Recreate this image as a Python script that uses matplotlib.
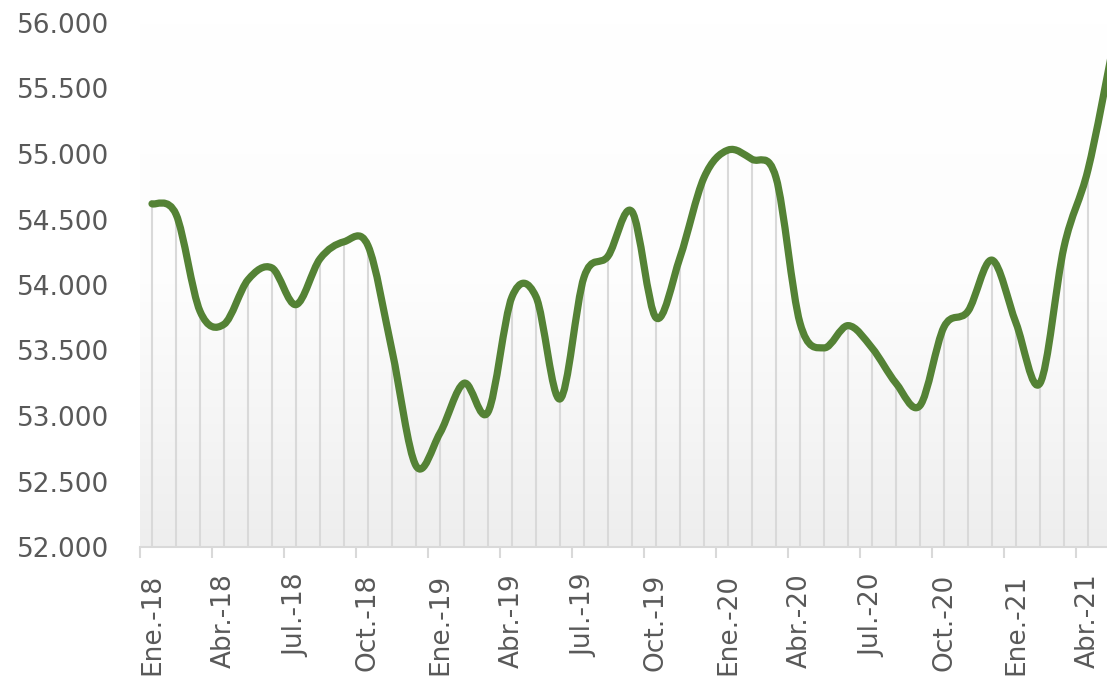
"""Monthly series Ene-18 to May-21, smoothed line with drop lines."""
import numpy as np
import matplotlib
matplotlib.use("Agg")
import matplotlib.pyplot as plt
from matplotlib.path import Path
from matplotlib.patches import PathPatch
from matplotlib.colors import LinearSegmentedColormap

months = ["Ene.", "Feb.", "Mar.", "Abr.", "May.", "Jun.",
          "Jul.", "Ago.", "Sep.", "Oct.", "Nov.", "Dic."]
years = ["18", "19", "20", "21"]
n_points = 41  # Ene.-18 .. May.-21
categories = [months[i % 12] + "-" + years[i // 12] for i in range(n_points)]

values = [
    54620, 54540, 53800, 53700, 54040, 54130, 53850, 54200, 54330, 54300,
    53500, 52620, 52870, 53250, 53030, 53910, 53910, 53130, 54060, 54220,
    54560, 53750, 54210, 54820, 55030, 54960, 54820, 53710, 53520, 53690,
    53520, 53250, 53080, 53680, 53800, 54190, 53710, 53250, 54290, 54880,
    55780,
]

y_ticks = [52000, 52500, 53000, 53500, 54000, 54500, 55000, 55500, 56000]

LINE = "#548235"
GRAY_TXT = "#595959"
DROP = "#d9d9d9"


def smooth_path(x, y):
    # Excel-like smoothed line: cubic Bezier per segment (Catmull-Rom)
    pts = np.column_stack([x, y]).astype(float)
    n = len(pts)
    verts = [pts[0]]
    codes = [Path.MOVETO]
    for i in range(n - 1):
        p0 = pts[i - 1] if i > 0 else pts[i]
        p1 = pts[i]
        p2 = pts[i + 1]
        p3 = pts[i + 2] if i + 2 < n else pts[i + 1]
        c1 = p1 + (p2 - p0) / 6.0
        c2 = p2 - (p3 - p1) / 6.0
        verts += [c1, c2, p2]
        codes += [Path.CURVE4] * 3
    return Path(verts, codes)


fig = plt.figure(figsize=(11.07, 6.9), dpi=100)
ax = fig.add_axes([140 / 1107, (690 - 547) / 690, 1 - 140 / 1107, (547 - 23) / 690])

x = np.arange(n_points)
xmax = (1107 - 152) / 24

# gradient plot-area background, white at top to light gray at bottom
cmap = LinearSegmentedColormap.from_list("bg", ["#ffffff", "#fdfdfd", "#eeeeee"])
grad = np.linspace(0, 1, 256).reshape(-1, 1)
ax.imshow(grad, aspect="auto", cmap=cmap, extent=[-0.5, 45, 52000, 56000],
          origin="upper", zorder=0, vmin=0, vmax=1)
ax.set_xlim(-0.5, xmax)
ax.set_ylim(52000, 56000)

ax.vlines(x, 52000, values, color=DROP, linewidth=1.5, zorder=1)

patch = PathPatch(smooth_path(x, values), facecolor="none", edgecolor=LINE,
                  linewidth=5.2, capstyle="round", joinstyle="round", zorder=3)
ax.add_patch(patch)

for s in ["top", "right", "left"]:
    ax.spines[s].set_visible(False)
ax.spines["bottom"].set_color(DROP)
ax.spines["bottom"].set_linewidth(1.5)
ax.spines["bottom"].set_zorder(2)

ax.set_yticks(y_ticks)
ax.set_yticklabels([f"{v:,}".replace(",", ".") for v in y_ticks])
ax.tick_params(axis="y", length=0, pad=22, labelsize=19, labelcolor=GRAY_TXT)

lab_idx = list(range(0, n_points, 3))
ax.set_xticks(lab_idx)
ax.set_xticklabels([categories[i] for i in lab_idx], rotation=90)
ax.tick_params(axis="x", which="major", length=0, pad=19, labelsize=19,
               labelcolor=GRAY_TXT)
ax.set_xticks(np.arange(-0.5, n_points, 3), minor=True)
ax.tick_params(axis="x", which="minor", length=8, width=1.5, color=DROP)

fig.savefig("out.png", dpi=100)
